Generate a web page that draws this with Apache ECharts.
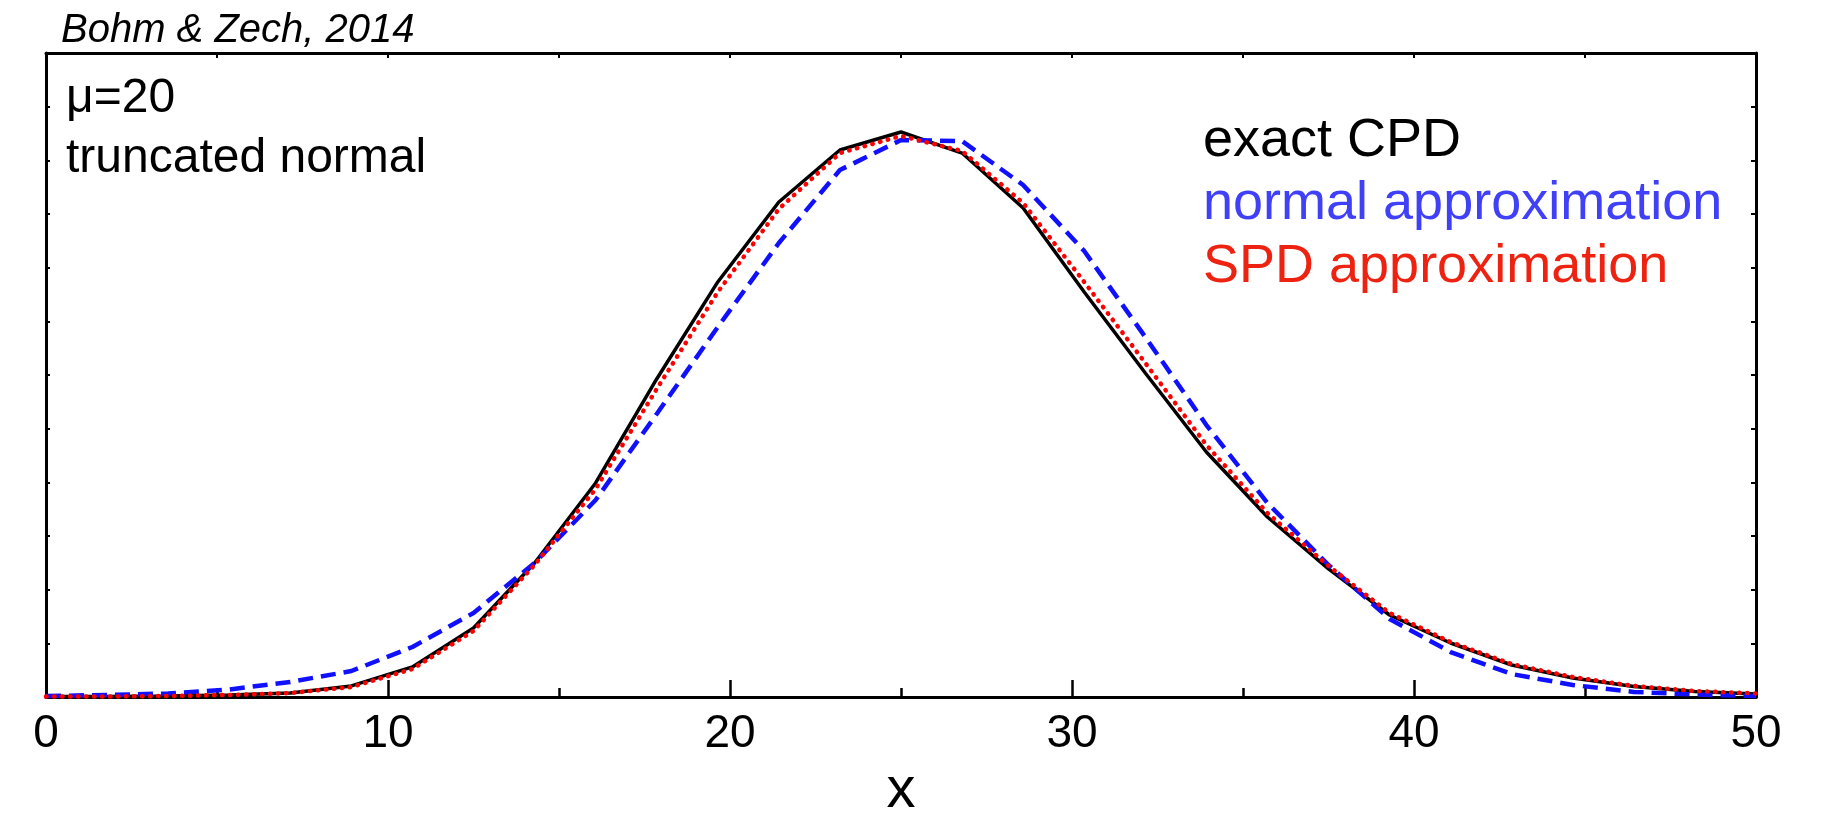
<!DOCTYPE html>
<html>
<head>
<meta charset="utf-8">
<script src="https://cdn.jsdelivr.net/npm/echarts@6/dist/echarts.min.js"></script>
<style>
html,body{margin:0;padding:0;background:#fff;}
#chart{width:1830px;height:813px;}
</style>
</head>
<body>
<div id="chart"></div>
<script>
// x positions of the evaluated points
var xValues = [0, 1.786, 3.571, 5.357, 7.143, 8.929, 10.714, 12.5, 14.286, 16.071, 17.857, 19.643, 21.429, 23.214, 25,
  26.786, 28.571, 30.357, 32.143, 33.929, 35.714, 37.5, 39.286, 41.071, 42.857, 44.643, 46.429, 48.214, 50];
// exact compound Poisson distribution
var exactCPD = [0.00005, 0.00005, 0.00009, 0.00019, 0.00037, 0.00103, 0.00280, 0.00643, 0.01249, 0.01994, 0.02963,
  0.03867, 0.04612, 0.05096, 0.05264, 0.05068, 0.04556, 0.03773, 0.03019, 0.02283, 0.01677, 0.01193, 0.00764,
  0.00503, 0.00298, 0.00177, 0.00098, 0.00051, 0.00028];
// normal approximation
var normalApprox = [0.00009, 0.00019, 0.00033, 0.00070, 0.00140, 0.00242, 0.00466, 0.00783, 0.01249, 0.01835, 0.02637,
  0.03447, 0.04230, 0.04910, 0.05189, 0.05180, 0.04770, 0.04155, 0.03354, 0.02534, 0.01808, 0.01230, 0.00727,
  0.00419, 0.00214, 0.00112, 0.00047, 0.00023, 0.00009];
// SPD approximation
var spdApprox = [0.00005, 0.00005, 0.00009, 0.00019, 0.00037, 0.00093, 0.00261, 0.00615, 0.01230, 0.01938, 0.02870,
  0.03773, 0.04547, 0.05068, 0.05227, 0.05087, 0.04603, 0.03867, 0.03112, 0.02348, 0.01714, 0.01221, 0.00783,
  0.00512, 0.00307, 0.00186, 0.00103, 0.00056, 0.00033];
var seriesNames = ['exact CPD', 'normal approximation', 'SPD approximation'];
var xTickLabels = ['0', '10', '20', '30', '40', '50'];

function pairs(ys) { return xValues.map(function (x, i) { return [x, ys[i]]; }); }

var FONT = '"Liberation Sans", Arial, Helvetica, sans-serif';
var chart = echarts.init(document.getElementById('chart'), null, {renderer: 'canvas'});

var frameLine = {show: true, onZero: false, lineStyle: {color: '#000', width: 3}};
function txt(x, y, s, font, color) {
  return {type: 'text', x: x, y: y, style: {text: s, fill: color, font: font,
    textAlign: 'left', textVerticalAlign: 'middle', align: 'left', verticalAlign: 'middle'}};
}
var option = {
  backgroundColor: '#fff',
  animation: false,
  grid: {left: 46, right: 74, top: 53, bottom: 116, containLabel: false, outerBoundsMode: 'none'},
  xAxis: [{
    type: 'value', position: 'bottom', min: 0, max: 50, interval: 10,
    axisLine: frameLine,
    axisTick: {show: true, inside: true, length: 17, lineStyle: {color: '#000', width: 2.5}},
    minorTick: {show: true, splitNumber: 2, length: 9, lineStyle: {color: '#000', width: 2.5}},
    splitLine: {show: false},
    axisLabel: {show: true, margin: 14, color: '#000', fontSize: 46, fontFamily: FONT,
      formatter: function (v) { var i = xTickLabels.indexOf(String(v)); return i >= 0 ? xTickLabels[i] : ''; }},
    name: 'x', nameLocation: 'middle', nameGap: 63,
    nameTextStyle: {color: '#000', fontSize: 58, fontFamily: FONT}
  }, {
    type: 'value', position: 'top', min: 0, max: 50, interval: 5,
    axisLine: frameLine,
    axisTick: {show: true, inside: true, length: 5, lineStyle: {color: '#000', width: 2}},
    axisLabel: {show: false}, splitLine: {show: false}
  }],
  yAxis: [{
    type: 'value', position: 'left', min: 0, max: 0.06, interval: 0.005,
    axisLine: frameLine,
    axisTick: {show: true, inside: true, length: 4, lineStyle: {color: '#000', width: 2}},
    axisLabel: {show: false}, splitLine: {show: false}
  }, {
    type: 'value', position: 'right', min: 0, max: 0.06, interval: 0.005,
    axisLine: frameLine,
    axisTick: {show: true, inside: true, length: 5, lineStyle: {color: '#000', width: 2}},
    axisLabel: {show: false}, splitLine: {show: false}
  }],
  series: [{
    name: seriesNames[0], type: 'line', data: pairs(exactCPD), showSymbol: false, symbol: 'none',
    lineStyle: {color: '#000', width: 3.5, type: 'solid'}, z: 2
  }, {
    name: seriesNames[1], type: 'line', data: pairs(normalApprox), showSymbol: false, symbol: 'none',
    lineStyle: {color: '#1010ff', width: 4.5, type: [15, 8]}, z: 3
  }, {
    name: seriesNames[2], type: 'line', data: pairs(spdApprox), showSymbol: false, symbol: 'none',
    lineStyle: {color: '#ff0000', width: 4.5, type: [0.5, 7.5], cap: 'round'}, z: 4
  }],
  graphic: [
    txt(61, 31, 'Bohm & Zech, 2014', 'italic 40px ' + FONT, '#000'),
    txt(66, 99, 'μ=20', '48px ' + FONT, '#000'),
    txt(66, 159, 'truncated normal', '48px ' + FONT, '#000'),
    txt(1203, 141, seriesNames[0], '54px ' + FONT, '#000'),
    txt(1203, 204, seriesNames[1], '54px ' + FONT, '#4040f8'),
    txt(1203, 267, seriesNames[2], '54px ' + FONT, '#ee2211')
  ]
};
chart.setOption(option);
</script>
</body>
</html>
